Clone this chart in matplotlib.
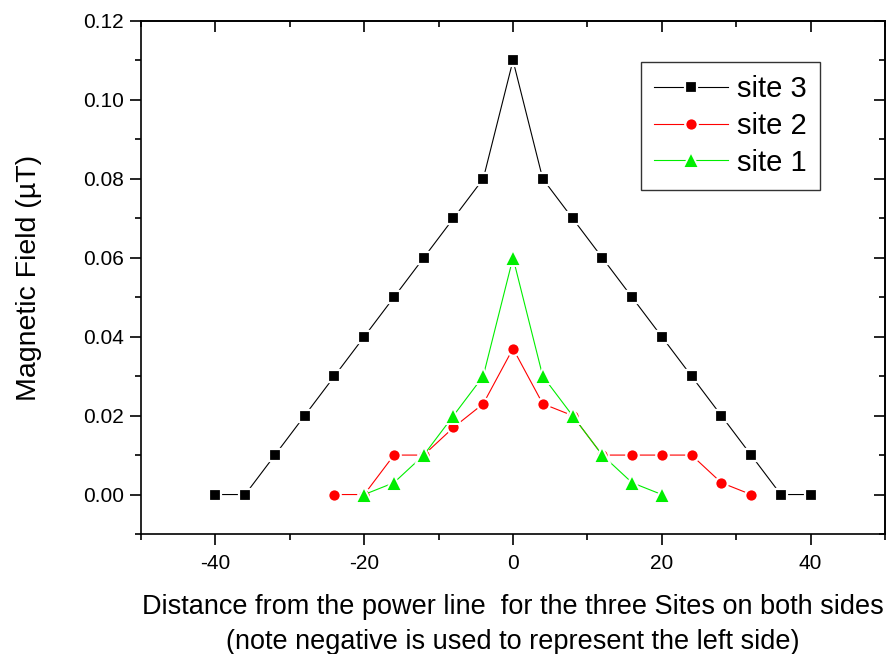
import matplotlib
matplotlib.use("Agg")
import matplotlib.pyplot as plt
from matplotlib.ticker import MultipleLocator, FormatStrFormatter

plt.rcParams['font.family'] = ['Liberation Sans', 'DejaVu Sans']

x3 = [-40, -36, -32, -28, -24, -20, -16, -12, -8, -4, 0, 4, 8, 12, 16, 20, 24, 28, 32, 36, 40]
y3 = [0, 0, 0.01, 0.02, 0.03, 0.04, 0.05, 0.06, 0.07, 0.08, 0.11, 0.08, 0.07, 0.06, 0.05, 0.04, 0.03, 0.02, 0.01, 0, 0]
x2 = [-24, -20, -16, -12, -8, -4, 0, 4, 8, 12, 16, 20, 24, 28, 32]
y2 = [0, 0, 0.01, 0.01, 0.017, 0.023, 0.037, 0.023, 0.02, 0.01, 0.01, 0.01, 0.01, 0.003, 0]
x1 = [-20, -16, -12, -8, -4, 0, 4, 8, 12, 16, 20]
y1 = [0, 0.003, 0.01, 0.02, 0.03, 0.06, 0.03, 0.02, 0.01, 0.003, 0]

fig = plt.figure(figsize=(8.87, 6.54), dpi=100)
ax = fig.add_axes([141/887, 1-534/654, (885-141)/887, (534-21)/654])

ax.plot(x3, y3, '-s', color='black', lw=0.8, ms=8.7, mec='white', mew=1.6, label='site 3', mfc='black')
ax.plot(x2, y2, '-o', color='#ff0000', lw=0.8, ms=9.0, mec='white', mew=1.6, label='site 2', mfc='#ff0000')
ax.plot(x1, y1, '-^', color='#00ee00', lw=0.8, ms=12, mec='white', mew=1.4, label='site 1', mfc='#00ee00')

ax.set_xlim(-50, 50)
ax.set_ylim(-0.01, 0.12)
ax.xaxis.set_major_locator(MultipleLocator(20))
ax.xaxis.set_minor_locator(MultipleLocator(10))
ax.yaxis.set_major_locator(MultipleLocator(0.02))
ax.yaxis.set_minor_locator(MultipleLocator(0.01))
ax.yaxis.set_major_formatter(FormatStrFormatter('%.2f'))
ax.xaxis.set_major_formatter(FormatStrFormatter('%d'))

for s in ax.spines.values():
    s.set_linewidth(1.2)

ax.tick_params(which='major', direction='out', length=8, width=1.2, labelsize=15)
ax.tick_params(axis='y', which='major', pad=4.5)
ax.tick_params(axis='x', which='major', pad=6.5)
ax.tick_params(which='minor', direction='out', length=4, width=1.2)

top = ax.secondary_xaxis('top')
top.xaxis.set_major_locator(MultipleLocator(20))
top.xaxis.set_minor_locator(MultipleLocator(10))
top.tick_params(which='major', direction='in', length=8, width=1.2, labeltop=False)
top.tick_params(which='minor', direction='in', length=4, width=1.2)
top.spines['top'].set_linewidth(1.2)
right = ax.secondary_yaxis('right')
right.yaxis.set_major_locator(MultipleLocator(0.02))
right.yaxis.set_minor_locator(MultipleLocator(0.01))
right.tick_params(which='major', direction='in', length=8, width=1.2, labelright=False)
right.tick_params(which='minor', direction='in', length=4, width=1.2)
right.spines['right'].set_linewidth(1.2)

ax.set_ylabel('Magnetic Field (µT)', fontsize=20.5, labelpad=29)
ax.set_xlabel('Distance from the power line  for the three Sites on both sides\n(note negative is used to represent the left side)',
              fontsize=19.5, labelpad=15, linespacing=1.45)

leg = ax.legend(loc='upper right', bbox_to_anchor=(0.9126, 0.920), borderaxespad=0,
                fontsize=21, frameon=True, fancybox=False, edgecolor='black',
                handlelength=2.55, handletextpad=0.3, borderpad=0.45,
                labelspacing=0.3, markerscale=1.0)
leg.get_frame().set_linewidth(1.0)

fig.savefig('out.png', dpi=100)
